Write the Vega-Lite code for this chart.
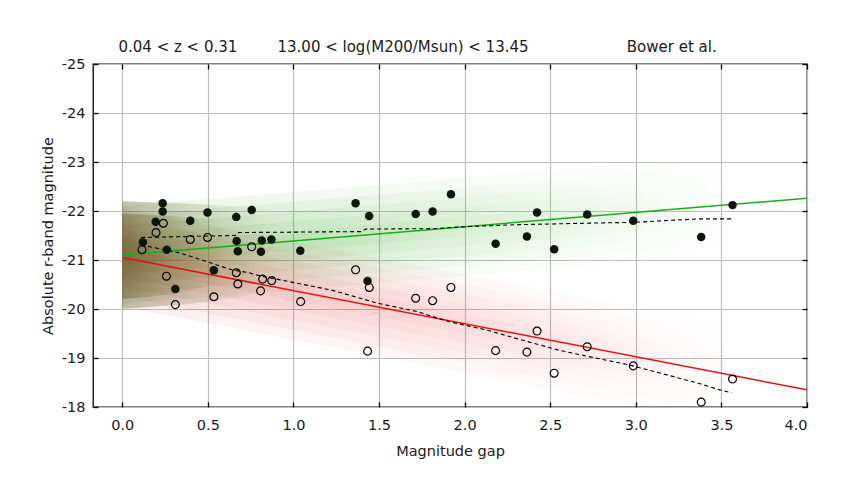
{
  "$schema": "https://vega.github.io/schema/vega-lite/v6.json",
  "width": 714,
  "height": 343,
  "autosize": {"type": "none"},
  "padding": {"left": 93, "top": 64, "right": 54, "bottom": 96},
  "background": "white",
  "config": {
    "font": "DejaVu Sans",
    "view": {"stroke": "#000", "strokeWidth": 1.3},
    "axis": {
      "labelFontSize": 14.5,
      "titleFontSize": 14.5,
      "titleFontWeight": "normal",
      "labelColor": "#1a1a1a",
      "titleColor": "#1a1a1a",
      "gridColor": "#bdbdbd",
      "gridWidth": 1.2,
      "domain": false,
      "tickColor": "#000",
      "tickSize": -5,
      "tickWidth": 1.3
    }
  },
  "datasets": {
    "bands": [
      {"grp": "green", "band": "b1", "x": 0, "hi": -22.10, "lo": -20.10},
      {"grp": "green", "band": "b1", "x": 4, "hi": -23.26, "lo": -21.26},
      {"grp": "green", "band": "b2", "x": 0, "hi": -21.90, "lo": -20.30},
      {"grp": "green", "band": "b2", "x": 4, "hi": -23.06, "lo": -21.46},
      {"grp": "green", "band": "b3", "x": 0, "hi": -21.70, "lo": -20.50},
      {"grp": "green", "band": "b3", "x": 4, "hi": -22.86, "lo": -21.66},
      {"grp": "green", "band": "b4", "x": 0, "hi": -21.50, "lo": -20.70},
      {"grp": "green", "band": "b4", "x": 4, "hi": -22.66, "lo": -21.86},
      {"grp": "green", "band": "b5", "x": 0, "hi": -21.30, "lo": -20.90},
      {"grp": "green", "band": "b5", "x": 4, "hi": -22.46, "lo": -22.06},
      {"grp": "red", "band": "b1", "x": 0, "hi": -22.05, "lo": -20.05},
      {"grp": "red", "band": "b1", "x": 4, "hi": -19.35, "lo": -17.35},
      {"grp": "red", "band": "b2", "x": 0, "hi": -21.85, "lo": -20.25},
      {"grp": "red", "band": "b2", "x": 4, "hi": -19.15, "lo": -17.55},
      {"grp": "red", "band": "b3", "x": 0, "hi": -21.65, "lo": -20.45},
      {"grp": "red", "band": "b3", "x": 4, "hi": -18.95, "lo": -17.75},
      {"grp": "red", "band": "b4", "x": 0, "hi": -21.45, "lo": -20.65},
      {"grp": "red", "band": "b4", "x": 4, "hi": -18.75, "lo": -17.95},
      {"grp": "red", "band": "b5", "x": 0, "hi": -21.25, "lo": -20.85},
      {"grp": "red", "band": "b5", "x": 4, "hi": -18.55, "lo": -18.15},
      {"grp": "core", "band": "c1", "x": 0, "hi": -22.2, "lo": -20.0},
      {"grp": "core", "band": "c1", "x": 0.4, "hi": -22.15, "lo": -20.1},
      {"grp": "core", "band": "c1", "x": 0.9, "hi": -22.05, "lo": -20.35},
      {"grp": "core", "band": "c2", "x": 0, "hi": -21.95, "lo": -20.2},
      {"grp": "core", "band": "c2", "x": 0.3, "hi": -21.9, "lo": -20.3},
      {"grp": "core", "band": "c2", "x": 0.6, "hi": -21.8, "lo": -20.55}
    ],
    "fits": [
      {"series": "green", "x": 0, "y": -21.10},
      {"series": "green", "x": 4, "y": -22.26},
      {"series": "red", "x": 0, "y": -21.05},
      {"series": "red", "x": 4, "y": -18.35}
    ],
    "dashed": [
      {"series": "upper", "x": 0.11, "y": -21.46},
      {"series": "upper", "x": 0.66, "y": -21.50},
      {"series": "upper", "x": 0.68, "y": -21.56},
      {"series": "upper", "x": 1.40, "y": -21.58},
      {"series": "upper", "x": 1.42, "y": -21.63},
      {"series": "upper", "x": 1.82, "y": -21.64},
      {"series": "upper", "x": 2.0, "y": -21.68},
      {"series": "upper", "x": 2.3, "y": -21.72},
      {"series": "upper", "x": 2.7, "y": -21.75},
      {"series": "upper", "x": 3.0, "y": -21.77},
      {"series": "upper", "x": 3.15, "y": -21.80},
      {"series": "upper", "x": 3.37, "y": -21.84},
      {"series": "upper", "x": 3.56, "y": -21.84},
      {"series": "lower", "x": 0.11, "y": -21.31},
      {"series": "lower", "x": 0.16, "y": -21.27},
      {"series": "lower", "x": 0.33, "y": -21.15},
      {"series": "lower", "x": 0.43, "y": -21.04},
      {"series": "lower", "x": 0.64, "y": -20.80},
      {"series": "lower", "x": 0.74, "y": -20.74},
      {"series": "lower", "x": 0.81, "y": -20.67},
      {"series": "lower", "x": 0.93, "y": -20.59},
      {"series": "lower", "x": 1.23, "y": -20.38},
      {"series": "lower", "x": 1.49, "y": -20.12},
      {"series": "lower", "x": 1.72, "y": -19.95},
      {"series": "lower", "x": 1.91, "y": -19.74},
      {"series": "lower", "x": 2.13, "y": -19.57},
      {"series": "lower", "x": 2.3, "y": -19.40},
      {"series": "lower", "x": 2.55, "y": -19.16},
      {"series": "lower", "x": 2.71, "y": -19.04},
      {"series": "lower", "x": 2.96, "y": -18.86},
      {"series": "lower", "x": 3.36, "y": -18.49},
      {"series": "lower", "x": 3.49, "y": -18.35},
      {"series": "lower", "x": 3.56, "y": -18.29}
    ],
    "points": [
      {"kind": "first", "gap": 0.12, "mag": -21.36},
      {"kind": "first", "gap": 0.195, "mag": -21.78},
      {"kind": "first", "gap": 0.236, "mag": -22.16},
      {"kind": "first", "gap": 0.236, "mag": -21.99},
      {"kind": "first", "gap": 0.26, "mag": -21.21},
      {"kind": "first", "gap": 0.31, "mag": -20.41},
      {"kind": "first", "gap": 0.397, "mag": -21.80},
      {"kind": "first", "gap": 0.498, "mag": -21.97},
      {"kind": "first", "gap": 0.535, "mag": -20.79},
      {"kind": "first", "gap": 0.666, "mag": -21.88},
      {"kind": "first", "gap": 0.668, "mag": -21.39},
      {"kind": "first", "gap": 0.675, "mag": -21.18},
      {"kind": "first", "gap": 0.756, "mag": -22.02},
      {"kind": "first", "gap": 0.81, "mag": -21.17},
      {"kind": "first", "gap": 0.815, "mag": -21.40},
      {"kind": "first", "gap": 0.871, "mag": -21.42},
      {"kind": "first", "gap": 1.04, "mag": -21.19},
      {"kind": "first", "gap": 1.363, "mag": -22.16},
      {"kind": "first", "gap": 1.433, "mag": -20.57},
      {"kind": "first", "gap": 1.442, "mag": -21.90},
      {"kind": "first", "gap": 1.714, "mag": -21.94},
      {"kind": "first", "gap": 1.813, "mag": -21.99},
      {"kind": "first", "gap": 1.92, "mag": -22.34},
      {"kind": "first", "gap": 2.181, "mag": -21.33},
      {"kind": "first", "gap": 2.364, "mag": -21.48},
      {"kind": "first", "gap": 2.423, "mag": -21.97},
      {"kind": "first", "gap": 2.523, "mag": -21.22},
      {"kind": "first", "gap": 2.716, "mag": -21.93},
      {"kind": "first", "gap": 2.985, "mag": -21.80},
      {"kind": "first", "gap": 3.382, "mag": -21.47},
      {"kind": "first", "gap": 3.565, "mag": -22.12},
      {"kind": "second", "gap": 0.115, "mag": -21.21},
      {"kind": "second", "gap": 0.197, "mag": -21.56},
      {"kind": "second", "gap": 0.24, "mag": -21.75},
      {"kind": "second", "gap": 0.258, "mag": -20.67},
      {"kind": "second", "gap": 0.31, "mag": -20.09},
      {"kind": "second", "gap": 0.397, "mag": -21.42},
      {"kind": "second", "gap": 0.498, "mag": -21.46},
      {"kind": "second", "gap": 0.535, "mag": -20.25},
      {"kind": "second", "gap": 0.666, "mag": -20.74},
      {"kind": "second", "gap": 0.675, "mag": -20.51},
      {"kind": "second", "gap": 0.756, "mag": -21.27},
      {"kind": "second", "gap": 0.808, "mag": -20.37},
      {"kind": "second", "gap": 0.82, "mag": -20.61},
      {"kind": "second", "gap": 0.873, "mag": -20.58},
      {"kind": "second", "gap": 1.042, "mag": -20.15},
      {"kind": "second", "gap": 1.363, "mag": -20.80},
      {"kind": "second", "gap": 1.433, "mag": -19.14},
      {"kind": "second", "gap": 1.443, "mag": -20.44},
      {"kind": "second", "gap": 1.714, "mag": -20.22},
      {"kind": "second", "gap": 1.813, "mag": -20.17},
      {"kind": "second", "gap": 1.92, "mag": -20.44},
      {"kind": "second", "gap": 2.181, "mag": -19.15},
      {"kind": "second", "gap": 2.364, "mag": -19.12},
      {"kind": "second", "gap": 2.423, "mag": -19.55},
      {"kind": "second", "gap": 2.523, "mag": -18.69},
      {"kind": "second", "gap": 2.716, "mag": -19.23},
      {"kind": "second", "gap": 2.985, "mag": -18.84},
      {"kind": "second", "gap": 3.382, "mag": -18.10},
      {"kind": "second", "gap": 3.565, "mag": -18.57}
    ],
    "labels": [
      {"text": "0.04 < z < 0.31", "x": 0.325, "y": -25.35},
      {"text": "13.00 < log(M200/Msun) < 13.45", "x": 1.64, "y": -25.35},
      {"text": "Bower et al.", "x": 3.21, "y": -25.35}
    ]
  },
  "resolve": {"axis": {"x": "independent", "y": "independent"}},
  "layer": [
    {
      "data": {"name": "bands"},
      "transform": [{"filter": "datum.grp === 'green'"}],
      "mark": {
        "type": "area", "clip": true,
        "fill": {"gradient": "linear", "x1": 0, "y1": 0, "x2": 1, "y2": 0,
          "stops": [
            {"offset": 0, "color": "rgba(40,140,20,0.085)"},
            {"offset": 0.3, "color": "rgba(60,170,40,0.07)"},
            {"offset": 0.6, "color": "rgba(80,190,60,0.035)"},
            {"offset": 0.9, "color": "rgba(80,190,60,0)"}
          ]}
      },
      "encoding": {
        "x": {"field": "x", "type": "quantitative",
          "scale": {"domain": [-0.171, 4.0], "nice": false, "zero": false},
          "axis": {"orient": "bottom", "values": [0, 0.5, 1, 1.5, 2, 2.5, 3, 3.5, 4], "format": ".1f",
            "title": "Magnitude gap", "labelPadding": 16, "titlePadding": 13, "grid": true}},
        "y": {"field": "hi", "type": "quantitative",
          "scale": {"domain": [-25, -18], "nice": false, "zero": false, "reverse": true},
          "axis": {"orient": "left", "values": [-25, -24, -23, -22, -21, -20, -19, -18],
            "labelExpr": "'' + datum.value", "title": "Absolute r-band magnitude",
            "labelPadding": 13, "titlePadding": 6, "grid": true}},
        "y2": {"field": "lo"},
        "detail": {"field": "band"}
      }
    },
    {
      "data": {"name": "bands"},
      "transform": [{"filter": "datum.grp === 'red'"}],
      "mark": {
        "type": "area", "clip": true,
        "fill": {"gradient": "linear", "x1": 0, "y1": 0, "x2": 1, "y2": 0,
          "stops": [
            {"offset": 0, "color": "rgba(200,30,30,0.07)"},
            {"offset": 0.45, "color": "rgba(235,60,60,0.045)"},
            {"offset": 0.9, "color": "rgba(235,60,60,0)"}
          ]}
      },
      "encoding": {
        "x": {"field": "x", "type": "quantitative", "axis": null},
        "y": {"field": "hi", "type": "quantitative", "axis": null},
        "y2": {"field": "lo"},
        "detail": {"field": "band"}
      }
    },
    {
      "data": {"name": "bands"},
      "transform": [{"filter": "datum.grp === 'core'"}],
      "mark": {
        "type": "area", "clip": true,
        "fill": {"gradient": "linear", "x1": 0, "y1": 0, "x2": 1, "y2": 0,
          "stops": [
            {"offset": 0, "color": "rgba(80,70,10,0.34)"},
            {"offset": 0.5, "color": "rgba(90,90,20,0.16)"},
            {"offset": 1, "color": "rgba(90,90,20,0)"}
          ]}
      },
      "encoding": {
        "x": {"field": "x", "type": "quantitative", "axis": null},
        "y": {"field": "hi", "type": "quantitative", "axis": null},
        "y2": {"field": "lo"},
        "detail": {"field": "band"}
      }
    },
    {
      "data": {"name": "fits"},
      "mark": {"type": "line", "strokeWidth": 1.5, "clip": true},
      "encoding": {
        "x": {"field": "x", "type": "quantitative", "axis": null},
        "y": {"field": "y", "type": "quantitative", "axis": null},
        "color": {"field": "series", "type": "nominal",
          "scale": {"domain": ["green", "red"], "range": ["#16b016", "#e01414"]}, "legend": null}
      }
    },
    {
      "data": {"name": "dashed"},
      "mark": {"type": "line", "strokeWidth": 1.1, "strokeDash": [4, 3], "color": "#000"},
      "encoding": {
        "x": {"field": "x", "type": "quantitative", "axis": null},
        "y": {"field": "y", "type": "quantitative", "axis": null},
        "detail": {"field": "series"}
      }
    },
    {
      "data": {"name": "points"},
      "transform": [{"filter": "datum.kind === 'second'"}],
      "mark": {"type": "point", "filled": false, "stroke": "#000", "strokeWidth": 1.2, "size": 62, "opacity": 1},
      "encoding": {
        "x": {"field": "gap", "type": "quantitative", "axis": null},
        "y": {"field": "mag", "type": "quantitative", "axis": null}
      }
    },
    {
      "data": {"name": "points"},
      "transform": [{"filter": "datum.kind === 'first'"}],
      "mark": {"type": "point", "filled": true, "color": "#0b170b", "size": 72, "opacity": 1},
      "encoding": {
        "x": {"field": "gap", "type": "quantitative", "axis": null},
        "y": {"field": "mag", "type": "quantitative", "axis": null}
      }
    },
    {
      "data": {"name": "labels"},
      "mark": {"type": "text", "fontSize": 15, "color": "#1a1a1a", "align": "center", "baseline": "middle"},
      "encoding": {
        "x": {"field": "x", "type": "quantitative",
          "axis": {"orient": "top", "values": [0, 0.5, 1, 1.5, 2, 2.5, 3, 3.5, 4], "labels": false, "grid": false, "title": null}},
        "y": {"field": "y", "type": "quantitative",
          "axis": {"orient": "right", "values": [-25, -24, -23, -22, -21, -20, -19, -18], "labels": false, "grid": false, "title": null}},
        "text": {"field": "text"}
      }
    }
  ]
}
